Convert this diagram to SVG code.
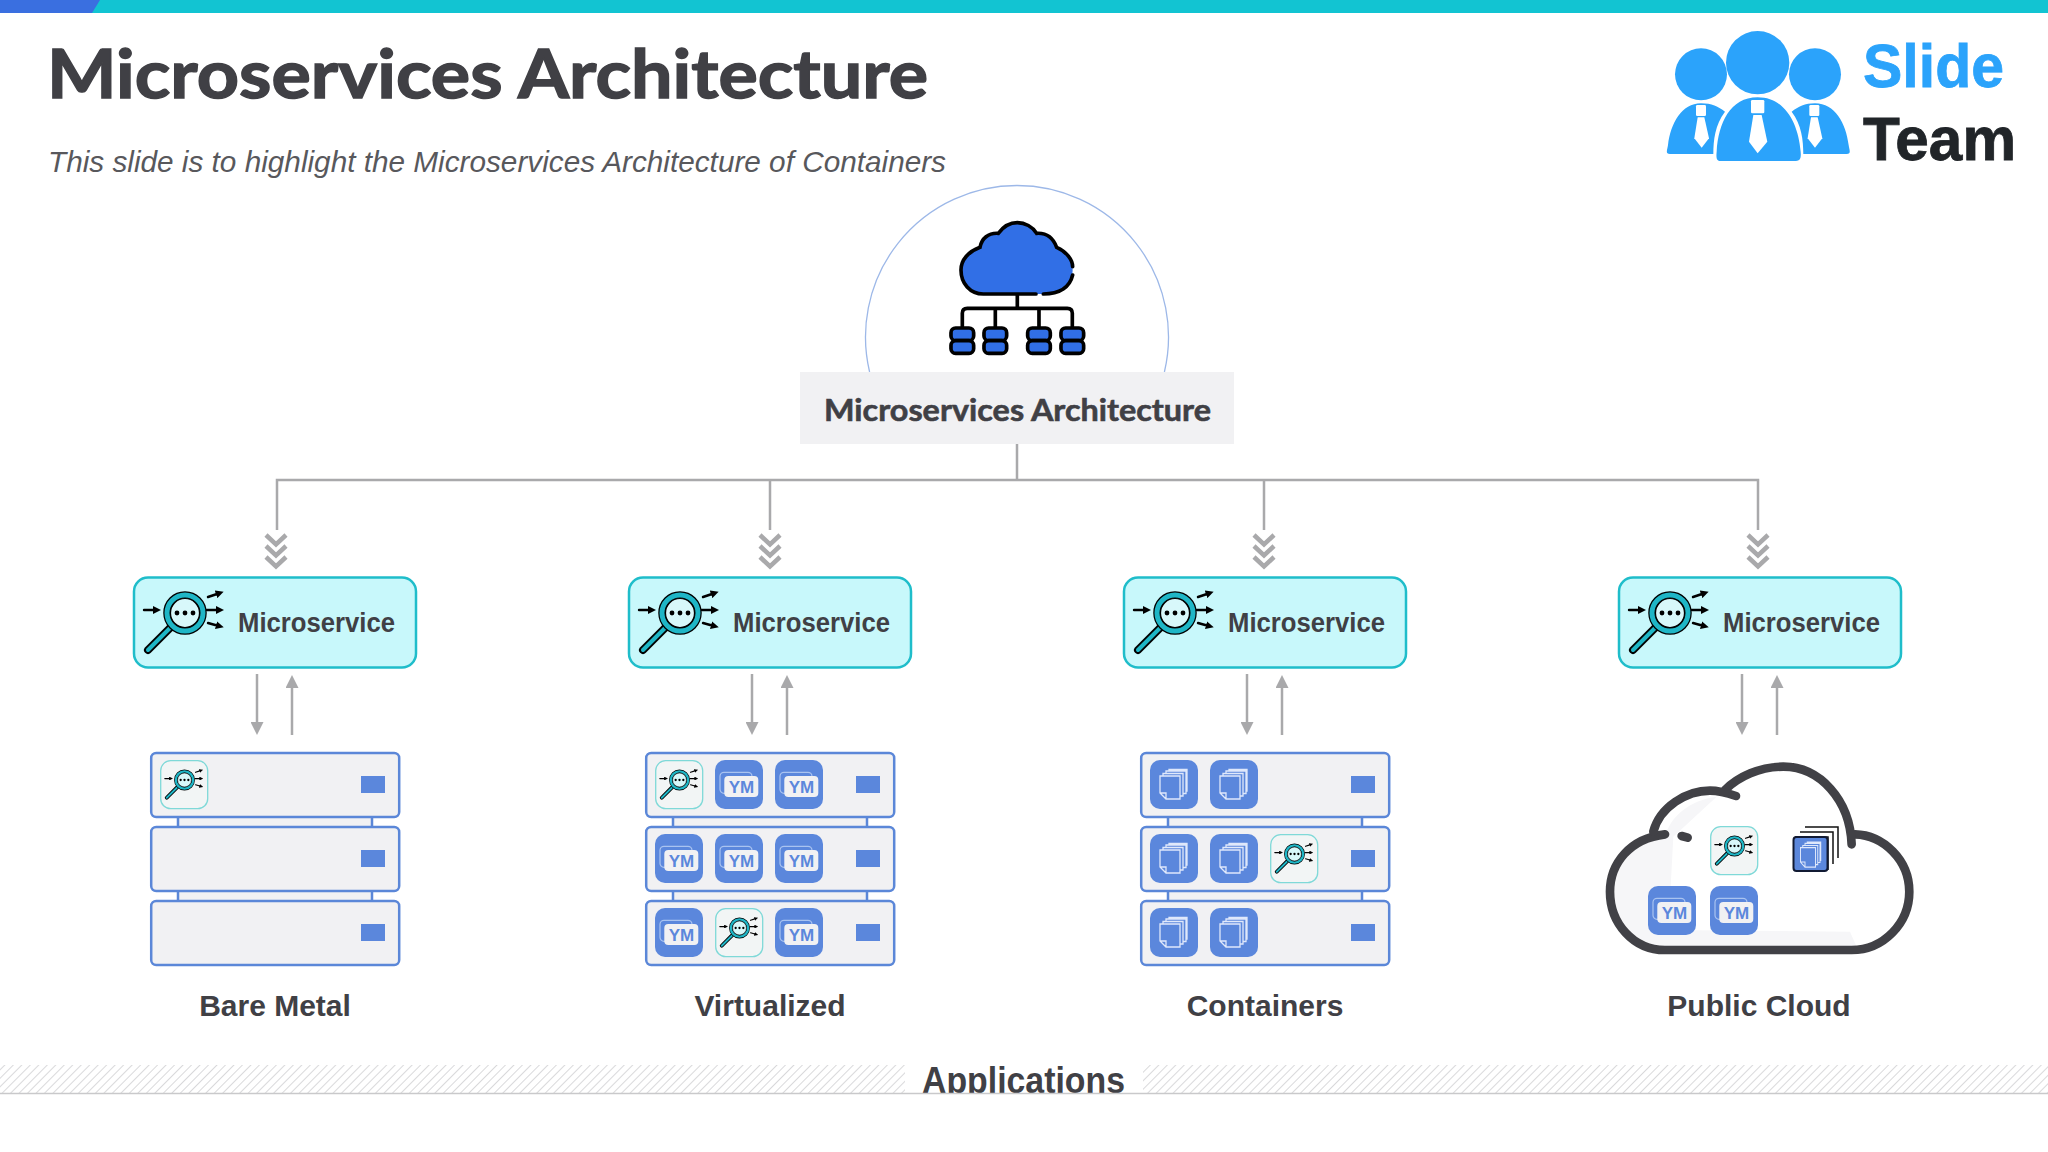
<svg xmlns="http://www.w3.org/2000/svg" width="2048" height="1152" viewBox="0 0 2048 1152">
<style>
text{font-family:"Liberation Sans",Arial,sans-serif}
.title{font-family:Lato,"Liberation Sans",sans-serif;font-weight:700;fill:#404045;stroke:#404045}
.lbl{font-weight:700;font-size:30px;fill:#404045;text-anchor:middle}
.ms{fill:#c8f8fb;stroke:#1fbdca;stroke-width:2.5}
.mst{font-weight:700;font-size:27px;fill:#404045}
.conn{fill:none;stroke:#a9a9ab;stroke-width:2.5}
.arr{fill:none;stroke:#a9a9ab;stroke-width:2.5}
.chev{fill:none;stroke:#a9a9ab;stroke-width:4.5}
.srv{fill:#f1f1f3;stroke:#5b87d8;stroke-width:2.5}
.tile{fill:#5b87dc}
.blk{fill:none;stroke:#000;stroke-linecap:round}
.ico{fill:#316fe6;stroke:#000;stroke-width:11}
.pg{fill:none;stroke:#dfe8fb;stroke-width:1.3}
.logot{font-size:62px;font-weight:700;stroke-width:.8}
</style>
<defs>
<marker id="head" markerUnits="userSpaceOnUse" markerWidth="14" markerHeight="13" refX="0" refY="6.5" orient="auto"><path d="M0 0L13 6.5L0 13Z" fill="#a9a9ab"/></marker>
<marker id="bh" markerUnits="userSpaceOnUse" markerWidth="8" markerHeight="8" refX="1" refY="4" orient="auto"><path d="M0 0L8 4L0 8Z" fill="#000"/></marker>
<pattern id="hatch" patternUnits="userSpaceOnUse" width="6" height="6" patternTransform="rotate(45)"><rect width="6" height="6" fill="#fff"/><line x1="0" y1="0" x2="0" y2="6" stroke="#d9d9db" stroke-width="2"/></pattern>
<g id="lens">
<path d="M-15 15L-37 37" stroke="#000" stroke-width="8" stroke-linecap="round"/>
<path d="M-15 15L-37 37" stroke="#1fb6c6" stroke-width="4" stroke-linecap="round"/>
<circle r="18" fill="#e6fbfc" stroke="#000" stroke-width="7.500"/>
<circle r="18" fill="none" stroke="#1fb6c6" stroke-width="5"/>
<circle r="14.500" fill="#d8f8fa" stroke="#000" stroke-width="1.200"/>
<circle cx="-8" r="2.400"/><circle r="2.400"/><circle cx="8" r="2.400"/>
<g class="blk" stroke-width="2.400">
<path d="M-41 -3H-31" marker-end="url(#bh)"/>
<path d="M23 -16L32 -19" marker-end="url(#bh)"/>
<path d="M22 -3H32" marker-end="url(#bh)"/>
<path d="M23 10L32 12.500" marker-end="url(#bh)"/>
</g>
</g>
<g id="t-lens"><rect x="0.700" y="0.700" width="47" height="48" rx="10" fill="#f2f5f5" stroke="#7fd9d8" stroke-width="1.300"/><use href="#lens" transform="translate(24.500 20) scale(.48)"/></g>
<g id="t-ym"><rect width="48" height="49" rx="10" class="tile"/><rect x="5" y="12.300" width="32" height="21" rx="4" fill="none" stroke="#a9c3f0" stroke-width="1.200"/><rect x="9.300" y="16" width="34" height="21" rx="4" fill="#f1f1f3"/><text x="26.500" y="32.500" font-size="17" font-weight="700" fill="#5b87dc" text-anchor="middle">YM</text></g>
<g id="pages"><path class="pg" d="M10 16H30V39H16L10 33ZM10 33H16V39M13 16V13.500H33V36H30M16 13.500V11H36V33.500H33M19 11V9.500H37V31H36"/></g>
<g id="t-doc"><rect width="48" height="49" rx="10" class="tile"/><use href="#pages"/></g>
<g id="rack">
<rect x="28" y="62" width="194" height="14" fill="#f1f1f3" stroke="#5b87d8" stroke-width="2.500"/>
<rect x="28" y="136" width="194" height="14" fill="#f1f1f3" stroke="#5b87d8" stroke-width="2.500"/>
<rect x="1.200" y="1" width="248" height="64" rx="5" class="srv"/>
<rect x="1.200" y="75" width="248" height="64" rx="5" class="srv"/>
<rect x="1.200" y="149" width="248" height="64" rx="5" class="srv"/>
<rect x="211" y="24" width="24" height="17" fill="#5b87dc"/>
<rect x="211" y="98" width="24" height="17" fill="#5b87dc"/>
<rect x="211" y="172" width="24" height="17" fill="#5b87dc"/>
</g>
<g id="chev"><path class="chev" d="M-10 535L0 544.500L10 535M-10 546L0 555.500L10 546M-10 557L0 566.500L10 557"/></g>
</defs>
<rect width="2048" height="1152" fill="#fff"/>
<g id="header">
<rect width="2048" height="13" fill="#12c4d2"/>
<path d="M0 0H100L92 13H0Z" fill="#3a6fe0"/>
<text class="title" x="47" y="98" font-size="67" stroke-width="1.400" textLength="881" lengthAdjust="spacingAndGlyphs">Microservices Architecture</text>
<text x="48" y="172" font-size="29" font-style="italic" fill="#58585c" textLength="898" lengthAdjust="spacingAndGlyphs">This slide is to highlight the Microservices Architecture of Containers</text>
</g>
<g id="logo">
<g transform="translate(1650 10) scale(.3333)" fill="#2ba3fb">
<circle cx="323" cy="158" r="95"/><circle cx="153" cy="193" r="78"/><circle cx="495" cy="193" r="78"/>
<path d="M60 432C45 432 52 420 54 405C62 340 95 280 153 280C185 280 205 290 225 305C195 345 190 390 190 432Z"/>
<path d="M590 432C605 432 598 420 596 405C588 340 555 280 495 280C465 280 445 290 425 305C455 345 460 390 460 432Z"/>
<path d="M212 453C200 453 198 445 200 425C205 340 240 262 323 262C405 262 445 340 452 425C454 445 450 453 438 453Z"/>
<g fill="#fff"><rect x="303" y="270" width="40" height="40" rx="4"/><path d="M310 315H335L352 395L323 430L297 395Z"/>
<rect x="138" y="285" width="30" height="33" rx="4"/><path d="M143 322H163L177 385L155 413L133 385Z"/>
<rect x="478" y="285" width="30" height="33" rx="4"/><path d="M483 322H503L517 385L495 413L473 385Z"/></g>
</g>
<text class="logot" x="1863" y="87" fill="#2ba3fb" stroke="#2ba3fb" textLength="141" lengthAdjust="spacingAndGlyphs">Slide</text>
<text class="logot" x="1863" y="160" fill="#212529" stroke="#212529" textLength="153" lengthAdjust="spacingAndGlyphs">Team</text>
</g>
<g id="connectors">
<path class="conn" d="M1017 444V480M277 530V480H1758V530M770 480V530M1264 480V530"/>
<use href="#chev" x="276"/><use href="#chev" x="770"/><use href="#chev" x="1264"/><use href="#chev" x="1758"/>
<path class="arr" marker-end="url(#head)" d="M257 674V722"/><path class="arr" marker-end="url(#head)" d="M292 735V688"/>
<path class="arr" marker-end="url(#head)" d="M752 674V722"/><path class="arr" marker-end="url(#head)" d="M787 735V688"/>
<path class="arr" marker-end="url(#head)" d="M1247 674V722"/><path class="arr" marker-end="url(#head)" d="M1282 735V688"/>
<path class="arr" marker-end="url(#head)" d="M1742 674V722"/><path class="arr" marker-end="url(#head)" d="M1777 735V688"/>
</g>
<g id="node-root">
<path d="M869.600 372A151.500 151.500 0 1 1 1164.400 372" fill="none" stroke="#9db8e8" stroke-width="1.300"/>
<g transform="translate(840 170) scale(.3333)">
<path d="M420 232C425 205 445 188 475 190C490 170 510 158 532 158C555 158 578 170 590 190C620 188 640 205 650 232C680 245 698 270 698 300C698 340 660 372 610 372H430C390 372 363 340 363 300C363 270 385 245 420 232Z" fill="#316fe6"/>
<path d="M698 290C698 270 680 245 650 232C640 205 620 188 590 190C578 170 555 158 532 158C510 158 490 170 475 190C445 188 425 205 420 232C385 245 363 270 363 300C363 340 390 372 430 372H588M610 372C660 372 690 350 698 315M532 372V415M367 470V430Q367 415 382 415H682Q697 415 697 430V470M466 415V470M597 415V470" fill="none" stroke="#000" stroke-width="11" stroke-linecap="round"/>
<g class="ico">
<rect x="333" y="474" width="68" height="38" rx="14"/><rect x="333" y="512" width="68" height="38" rx="14"/>
<rect x="432" y="474" width="68" height="38" rx="14"/><rect x="432" y="512" width="68" height="38" rx="14"/>
<rect x="563" y="474" width="68" height="38" rx="14"/><rect x="563" y="512" width="68" height="38" rx="14"/>
<rect x="663" y="474" width="68" height="38" rx="14"/><rect x="663" y="512" width="68" height="38" rx="14"/>
</g>
</g>
<rect x="800" y="372" width="434" height="72" fill="#f1f1f3"/>
<text class="title" x="824" y="421" font-size="31" stroke-width=".6" textLength="387" lengthAdjust="spacingAndGlyphs">Microservices Architecture</text>
</g>
<g id="node-ms-1"><rect class="ms" x="134" y="577.500" width="282" height="90" rx="14"/><use href="#lens" x="185" y="613"/><text class="mst" x="238" y="632" textLength="157" lengthAdjust="spacingAndGlyphs">Microservice</text></g>
<g id="node-ms-2"><rect class="ms" x="629" y="577.500" width="282" height="90" rx="14"/><use href="#lens" x="680" y="613"/><text class="mst" x="733" y="632" textLength="157" lengthAdjust="spacingAndGlyphs">Microservice</text></g>
<g id="node-ms-3"><rect class="ms" x="1124" y="577.500" width="282" height="90" rx="14"/><use href="#lens" x="1175" y="613"/><text class="mst" x="1228" y="632" textLength="157" lengthAdjust="spacingAndGlyphs">Microservice</text></g>
<g id="node-ms-4"><rect class="ms" x="1619" y="577.500" width="282" height="90" rx="14"/><use href="#lens" x="1670" y="613"/><text class="mst" x="1723" y="632" textLength="157" lengthAdjust="spacingAndGlyphs">Microservice</text></g>
<g id="node-bare-metal">
<use href="#rack" x="150" y="752"/><use href="#t-lens" x="160" y="760"/>
<text class="lbl" x="275" y="1016">Bare Metal</text>
</g>
<g id="node-virtualized">
<use href="#rack" x="645" y="752"/>
<use href="#t-lens" x="655" y="760"/><use href="#t-ym" x="715" y="760"/><use href="#t-ym" x="775" y="760"/>
<use href="#t-ym" x="655" y="834"/><use href="#t-ym" x="715" y="834"/><use href="#t-ym" x="775" y="834"/>
<use href="#t-ym" x="655" y="908"/><use href="#t-lens" x="715" y="908"/><use href="#t-ym" x="775" y="908"/>
<text class="lbl" x="770" y="1016">Virtualized</text>
</g>
<g id="node-containers">
<use href="#rack" x="1140" y="752"/>
<use href="#t-doc" x="1150" y="760"/><use href="#t-doc" x="1210" y="760"/>
<use href="#t-doc" x="1150" y="834"/><use href="#t-doc" x="1210" y="834"/><use href="#t-lens" x="1270" y="834"/>
<use href="#t-doc" x="1150" y="908"/><use href="#t-doc" x="1210" y="908"/>
<text class="lbl" x="1265" y="1016">Containers</text>
</g>
<g id="node-public-cloud">
<g transform="translate(1590 750) scale(.3333)">
<path d="M225 260C240 200 300 150 380 140L250 260L235 540L780 545L800 590H225C130 590 70 520 70 425C70 340 120 290 225 260Z" fill="#f6f6f8"/>
<g fill="none" stroke="#414146" stroke-width="26" stroke-linecap="round">
<path d="M225 253C120 265 60 340 60 425C60 520 130 600 225 600H785C880 600 958 520 958 425C958 330 880 255 795 253"/>
<path d="M785 283C780 150 690 50 580 50C510 50 445 80 405 120"/>
<path d="M438 138C400 125 380 122 360 122C290 122 210 170 190 245"/>
<path d="M275 258L293 263"/>
</g>
</g>
<use href="#t-lens" x="1710" y="826"/>
<path d="M1805 827H1838V858M1800 832H1833V864M1795 837H1828V870" fill="none" stroke="#111" stroke-width="1.500"/>
<rect x="1793.500" y="837" width="34" height="34" rx="3" fill="#5b87dc" stroke="#111a33" stroke-width="2"/>
<use href="#pages" transform="translate(1793 834) scale(.75 .85)"/>
<use href="#t-ym" x="1648" y="886"/><use href="#t-ym" x="1710" y="886"/>
<text class="lbl" x="1759" y="1016">Public Cloud</text>
</g>
<g id="applications">
<rect x="0" y="1065" width="905" height="28" fill="url(#hatch)"/>
<rect x="1143" y="1065" width="905" height="28" fill="url(#hatch)"/>
<text x="922" y="1093" font-size="36" font-weight="700" fill="#404045" textLength="203" lengthAdjust="spacingAndGlyphs">Applications</text>
<rect x="0" y="1094" width="2048" height="58" fill="#fff"/>
<line x1="0" y1="1093.500" x2="2048" y2="1093.500" stroke="#c9c9cb" stroke-width="1.500"/>
</g>
</svg>
